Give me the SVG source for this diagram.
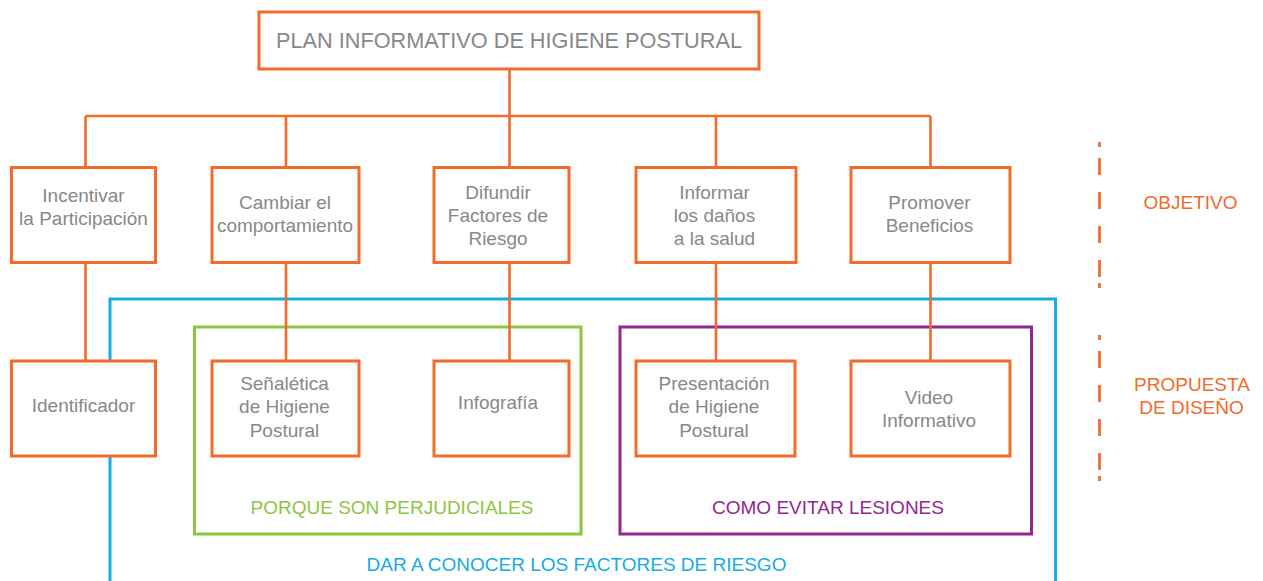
<svg xmlns="http://www.w3.org/2000/svg" width="1263" height="581" viewBox="0 0 1263 581">
<style>
.box{fill:#fff;stroke:#F26B2B;stroke-width:3}
.con{fill:none;stroke:#F26B2B;stroke-width:2.6}
.t{font-family:"Liberation Sans",Arial,sans-serif;font-size:19px;fill:#888888;text-anchor:middle}
.lab{font-family:"Liberation Sans",Arial,sans-serif;font-size:19px;text-anchor:middle}
</style>
<rect width="1263" height="581" fill="#fff"/>
<g id="groups">
<path d="M110,600 V299 H1055.5 V600" fill="none" stroke="#16ABE3" stroke-width="3"/>
<rect x="194.5" y="327" width="386.5" height="207" fill="none" stroke="#8DC63F" stroke-width="3"/>
<rect x="620" y="327" width="411.5" height="207" fill="none" stroke="#93278F" stroke-width="3"/>
<text class="lab" x="392" y="514" fill="#8DC63F">PORQUE SON PERJUDICIALES</text>
<text class="lab" x="828" y="514" fill="#93278F">COMO EVITAR LESIONES</text>
<text class="lab" x="576.5" y="571" fill="#16ABE3">DAR A CONOCER LOS FACTORES DE RIESGO</text>
</g>
<g id="connectors">
<path class="con" d="M509.5,69 V116 M85.5,116 H930.5 M85.5,116 V167 M286,116 V167 M509.5,116 V167 M716,116 V167 M930.5,116 V167"/>
<path class="con" d="M85.5,263 V361 M286,263 V361 M509.5,263 V361 M716,263 V361 M930.5,263 V361"/>
</g>
<g id="title">
<rect class="box" x="259" y="12" width="500" height="57"/>
<text class="t" x="509" y="48" style="font-size:21.7px">PLAN INFORMATIVO DE HIGIENE POSTURAL</text>
</g>
<g id="n-incentivar">
<rect class="box" x="11.5" y="167.5" width="144" height="95"/>
<text class="t" x="83.5" y="202">Incentivar</text>
<text class="t" x="83.5" y="225">la Participación</text>
</g>
<g id="n-cambiar">
<rect class="box" x="212" y="167.5" width="147" height="95"/>
<text class="t" x="285" y="209">Cambiar el</text>
<text class="t" x="285" y="232">comportamiento</text>
</g>
<g id="n-difundir">
<rect class="box" x="434" y="167.5" width="135" height="95"/>
<text class="t" x="498" y="199">Difundir</text>
<text class="t" x="498" y="222">Factores de</text>
<text class="t" x="498" y="245">Riesgo</text>
</g>
<g id="n-informar">
<rect class="box" x="636" y="167.5" width="160" height="95"/>
<text class="t" x="714.5" y="199">Informar</text>
<text class="t" x="714.5" y="222">los daños</text>
<text class="t" x="714.5" y="245">a la salud</text>
</g>
<g id="n-promover">
<rect class="box" x="851" y="167.5" width="159" height="95"/>
<text class="t" x="929.5" y="209">Promover</text>
<text class="t" x="929.5" y="232">Beneficios</text>
</g>
<g id="n-identificador">
<rect class="box" x="11.5" y="361" width="144" height="95"/>
<text class="t" x="83.5" y="412">Identificador</text>
</g>
<g id="n-senaletica">
<rect class="box" x="212" y="361" width="147" height="95"/>
<text class="t" x="284.5" y="390">Señalética</text>
<text class="t" x="284.5" y="413">de Higiene</text>
<text class="t" x="284.5" y="436.5">Postural</text>
</g>
<g id="n-infografia">
<rect class="box" x="434" y="361" width="135" height="95"/>
<text class="t" x="498" y="409">Infografía</text>
</g>
<g id="n-presentacion">
<rect class="box" x="636" y="361" width="159" height="95"/>
<text class="t" x="714" y="390">Presentación</text>
<text class="t" x="714" y="413">de Higiene</text>
<text class="t" x="714" y="436.5">Postural</text>
</g>
<g id="n-video">
<rect class="box" x="851" y="361" width="159" height="95"/>
<text class="t" x="929" y="404">Video</text>
<text class="t" x="929" y="427">Informativo</text>
</g>
<g id="legend">
<path d="M1099.5,142 V289 M1099.5,335 V482" fill="none" stroke="#F26B2B" stroke-width="2.7" stroke-dasharray="5 11 17 17 17 17 17 17 17 6 5 100"/>
<text class="lab" x="1190.5" y="209" fill="#F26B2B">OBJETIVO</text>
<text class="lab" x="1192" y="391" fill="#F26B2B">PROPUESTA</text>
<text class="lab" x="1191.5" y="414" fill="#F26B2B">DE DISEÑO</text>
</g>
</svg>
